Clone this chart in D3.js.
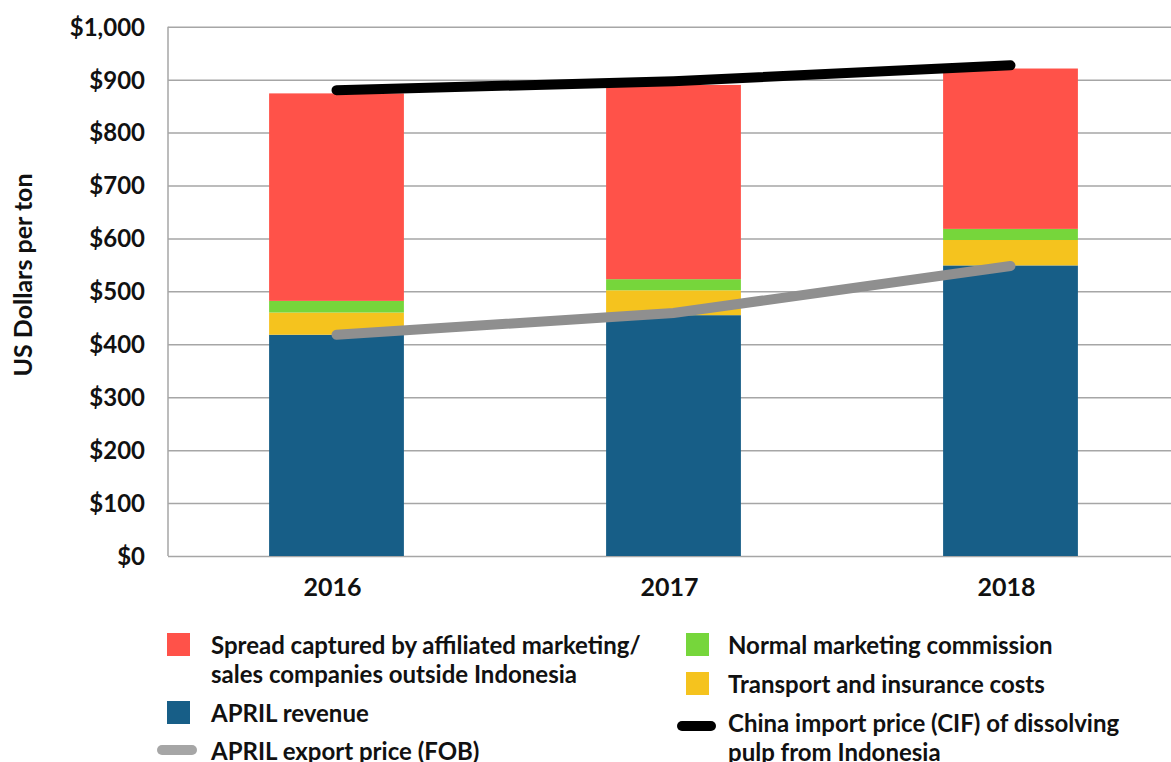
<!DOCTYPE html>
<html>
<head>
<meta charset="utf-8">
<script src="https://cdn.jsdelivr.net/npm/d3@7"></script>
<style>
body{margin:0;background:#fff;}
svg{display:block;font-family:Lato,"Open Sans",sans-serif;font-weight:bold;}
</style>
</head>
<body>
<div id="chart"></div>
<script>
// values, US$ per ton
var years = ['2016','2017','2018'];
var revenue = [418, 455, 549];      // APRIL revenue
var transport = [42, 47, 48];       // transport and insurance
var commission = [22, 21, 21];      // normal marketing commission
var spread = [392, 367, 303];       // spread captured offshore
var cifPrice = [880, 897, 927];     // China import price (CIF)
var fobPrice = [418, 459, 548];     // APRIL export price (FOB)
var yTicks = [0,100,200,300,400,500,600,700,800,900,1000];

var keys = ['revenue','transport','commission','spread'];
var colors = {revenue:'#175e87',transport:'#f5c31e',commission:'#76d63b',spread:'#ff5249'};

var rows = years.map(function(y,i){
    return {year:y,revenue:revenue[i],transport:transport[i],commission:commission[i],spread:spread[i]};
});

var W = 1171, H = 762;
var x0 = 168, x1 = 1179, yTop = 26.7, yBot = 556;

var svg = d3.select('#chart').append('svg')
    .attr('width',W).attr('height',H);

var x = d3.scaleBand().domain(years).range([x0,x1]).paddingInner(0.6).paddingOuter(0.3);
var y = d3.scaleLinear().domain([0,1000]).range([yBot,yTop]);

// grid + y labels
var yAxis = svg.append('g')
    .attr('transform','translate('+x0+',0)')
    .call(d3.axisLeft(y).tickValues(yTicks).tickSize(-(W-x0)).tickPadding(23)
        .tickFormat(function(d){return '$'+d3.format(',')(d);}));
yAxis.select('.domain').remove();
yAxis.selectAll('.tick line').attr('stroke','#a6a6a6').attr('stroke-width',1.5);
yAxis.selectAll('.tick text').attr('fill','#111').attr('font-size','24px')
    .attr('font-family','Lato,sans-serif').attr('font-weight','bold').attr('dy','0.35em');

// left axis line
svg.append('line').attr('x1',x0).attr('x2',x0).attr('y1',y(1000)).attr('y2',y(0))
    .attr('stroke','#a6a6a6').attr('stroke-width',1.5);

// stacked bars
var stacked = d3.stack().keys(keys)(rows);
svg.append('g').selectAll('g').data(stacked).enter()
    .append('g').attr('fill',function(d){return colors[d.key];})
    .selectAll('rect').data(function(d){return d;}).enter()
    .append('rect')
    .attr('x',function(d){return x(d.data.year);})
    .attr('width',x.bandwidth())
    .attr('y',function(d){return y(d[1]);})
    .attr('height',function(d){return y(d[0])-y(d[1]);});

// x labels
svg.append('g').selectAll('text').data(years).enter()
    .append('text')
    .attr('x',function(d){return x(d)+x.bandwidth()/2-4;})
    .attr('y',596)
    .attr('text-anchor','middle')
    .attr('font-size','25px').attr('fill','#111')
    .text(function(d){return d;});

// price lines
var line = d3.line()
    .x(function(d,i){return x(years[i])+x.bandwidth()/2;})
    .y(function(d){return y(d);});
svg.append('path').attr('d',line(fobPrice))
    .attr('fill','none').attr('stroke','#8f8f8f').attr('stroke-width',10)
    .attr('stroke-linecap','round');
svg.append('path').attr('d',line(cifPrice))
    .attr('fill','none').attr('stroke','#000').attr('stroke-width',10)
    .attr('stroke-linecap','round');

// y title
svg.append('text')
    .attr('transform','translate(32,275) rotate(-90)')
    .attr('text-anchor','middle')
    .attr('font-size','25px').attr('fill','#111')
    .text('US Dollars per ton');

// legend
var leg = svg.append('g').attr('font-size','24px').attr('fill','#111');
function swatch(xx,yy,c){
    leg.append('rect').attr('x',xx).attr('y',yy).attr('width',23).attr('height',23).attr('fill',c);
}
function lineKey(xx,yy,len,c){
    leg.append('line').attr('x1',xx+5).attr('x2',xx+len-5).attr('y1',yy).attr('y2',yy)
        .attr('stroke',c).attr('stroke-width',10).attr('stroke-linecap','round');
}
function label(xx,yy,lines){
    var t = leg.append('text').attr('x',xx).attr('y',yy);
    lines.forEach(function(s,i){
        t.append('tspan').attr('x',xx).attr('dy',i?29:0).text(s);
    });
}
swatch(167,633,colors.spread);
label(211,654,['Spread captured by affiliated marketing/','sales companies outside Indonesia']);
swatch(167,701,colors.revenue);
label(211,722,['APRIL revenue']);
lineKey(157,750,40,'#a6a6a6');
label(211,760,['APRIL export price (FOB)']);

swatch(686,633,colors.commission);
label(728,654,['Normal marketing commission']);
swatch(686,672,colors.transport);
label(728,693,['Transport and insurance costs']);
lineKey(677,726,39,'#000');
label(728,732,['China import price (CIF) of dissolving','pulp from Indonesia']);
</script>
</body>
</html>
